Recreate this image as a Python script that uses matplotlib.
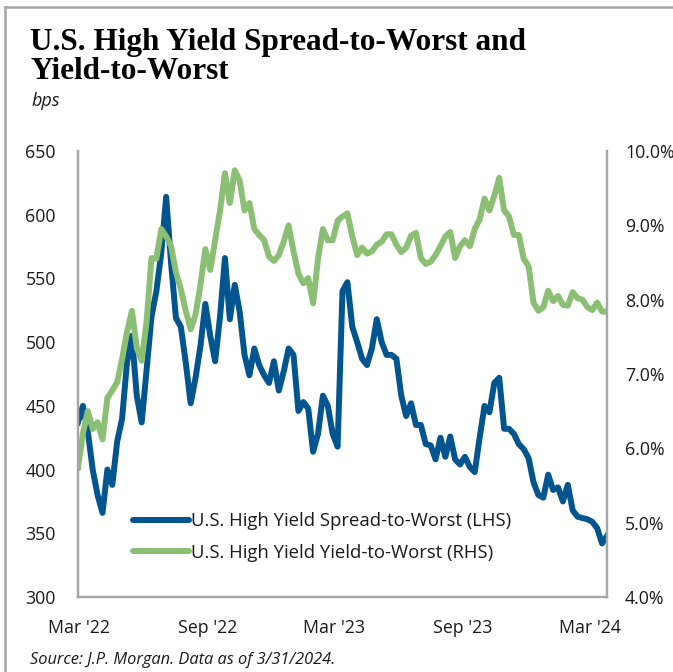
import matplotlib
matplotlib.use("Agg")
import matplotlib.pyplot as plt
import matplotlib.dates as mdates
from matplotlib.lines import Line2D
from matplotlib.ticker import FuncFormatter, MultipleLocator
import pandas as pd

# weekly observations, Mar 2022 - Mar 2024
dates = pd.date_range("2022-02-28", periods=109, freq="7D")

spread_bps = [
    437, 450, 430, 400, 380, 366, 400, 388, 422, 440,
    484, 505, 458, 437, 478, 520, 540, 570, 614, 562,
    519, 512, 484, 452, 472, 497, 530, 505, 485, 520,
    566, 518, 545, 524, 490, 474, 495, 482, 474, 468,
    485, 462, 477, 495, 490, 446, 453, 448, 414, 428,
    458, 450, 428, 418, 540, 547, 512, 500, 487, 482,
    495, 518, 500, 490, 490, 487, 458, 442, 452, 435,
    435, 420, 419, 408, 425, 410, 426, 408, 404, 410,
    402, 398, 425, 450, 445, 468, 472, 432, 432, 428,
    420, 416, 409, 390, 380, 378, 396, 384, 386, 375,
    388, 368, 363, 362, 361, 359, 354, 342, 348,
]

yield_pct = [
    5.74, 6.20, 6.50, 6.26, 6.35, 6.12, 6.68, 6.78, 6.89, 7.20,
    7.56, 7.85, 7.35, 7.18, 7.70, 8.56, 8.55, 8.95, 8.85, 8.72,
    8.37, 8.14, 7.85, 7.60, 7.80, 8.20, 8.68, 8.40, 8.80, 9.20,
    9.70, 9.30, 9.74, 9.60, 9.20, 9.30, 8.95, 8.87, 8.80, 8.58,
    8.52, 8.60, 8.78, 9.00, 8.65, 8.35, 8.22, 8.29, 7.95, 8.55,
    8.95, 8.80, 8.80, 9.06, 9.12, 9.16, 8.85, 8.60, 8.70, 8.62,
    8.65, 8.74, 8.78, 8.88, 8.88, 8.74, 8.64, 8.70, 8.86, 8.90,
    8.56, 8.48, 8.51, 8.60, 8.72, 8.85, 8.91, 8.56, 8.72, 8.80,
    8.72, 8.95, 9.08, 9.36, 9.20, 9.40, 9.64, 9.20, 9.12, 8.87,
    8.87, 8.55, 8.45, 7.96, 7.85, 7.90, 8.12, 7.98, 8.05, 7.93,
    7.92, 8.10, 8.02, 8.00, 7.90, 7.86, 7.96, 7.84, 7.84,
]

spread_label = "U.S. High Yield Spread-to-Worst (LHS)"
yield_label = "U.S. High Yield Yield-to-Worst (RHS)"

BLUE = "#03558f"
GREEN = "#8bbf74"
SPINE = "#a6a6a6"
TEXT = "#1a1a1a"
LW = 4.3

plt.rcParams["font.family"] = ["Open Sans", "DejaVu Sans"]

fig = plt.figure(figsize=(6.73, 6.72), dpi=100)
ax = fig.add_axes([0.1159, 0.1116, 0.7860, 0.6637])
ax2 = ax.twinx()

ax.plot(dates, spread_bps, color=BLUE, lw=LW, solid_joinstyle="round")
ax2.plot(dates, yield_pct, color=GREEN, lw=LW, solid_joinstyle="round")

ax.set_xlim(dates[0], dates[-1])
ax.set_ylim(300, 650)
ax2.set_ylim(4.0, 10.0)
ax.yaxis.set_major_locator(MultipleLocator(50))
ax2.yaxis.set_major_locator(MultipleLocator(1.0))
ax2.yaxis.set_major_formatter(FuncFormatter(lambda v, _: f"{v:.1f}%"))

ax.xaxis.set_major_locator(mdates.MonthLocator(bymonth=[3, 9]))
ax.xaxis.set_major_formatter(mdates.DateFormatter("%b '%y"))

for a in (ax, ax2):
    a.spines["top"].set_visible(False)
    for side in ("left", "right", "bottom"):
        a.spines[side].set_color(SPINE)
        a.spines[side].set_linewidth(1.6)
    a.tick_params(length=0, labelsize=12.8, colors=TEXT)
ax.tick_params(axis="y", pad=16)
ax.tick_params(axis="x", pad=16)
ax2.tick_params(axis="y", pad=13)

handles = [
    Line2D([], [], color=BLUE, lw=LW, solid_capstyle="round"),
    Line2D([], [], color=GREEN, lw=LW, solid_capstyle="round"),
]
ax2.legend(handles, [spread_label, yield_label], loc="lower left",
           bbox_to_anchor=(0.073, 0.042), frameon=False, fontsize=13.3,
           handlelength=3.0, handletextpad=0.15, labelspacing=0.73,
           labelcolor=TEXT)

fig.text(0.045, 0.958, "U.S. High Yield Spread-to-Worst and\nYield-to-Worst",
         family="Liberation Serif", weight="bold", fontsize=22.5,
         color="black", va="top", ha="left", linespacing=1.0)
fig.text(0.047, 0.843, "bps", style="italic", fontsize=13, color=TEXT,
         va="baseline", ha="left")
fig.text(0.045, 0.012, "Source: J.P. Morgan. Data as of 3/31/2024.",
         style="italic", fontsize=11.8, color=TEXT, va="baseline", ha="left")

# thin frame along the top and left edges
fig.add_artist(Line2D([0.008, 1.0], [0.990, 0.990], transform=fig.transFigure,
                      color=SPINE, lw=1.8))
fig.add_artist(Line2D([0.008, 0.008], [0.0, 0.990], transform=fig.transFigure,
                      color=SPINE, lw=1.8))

fig.savefig("out.png", dpi=100)
